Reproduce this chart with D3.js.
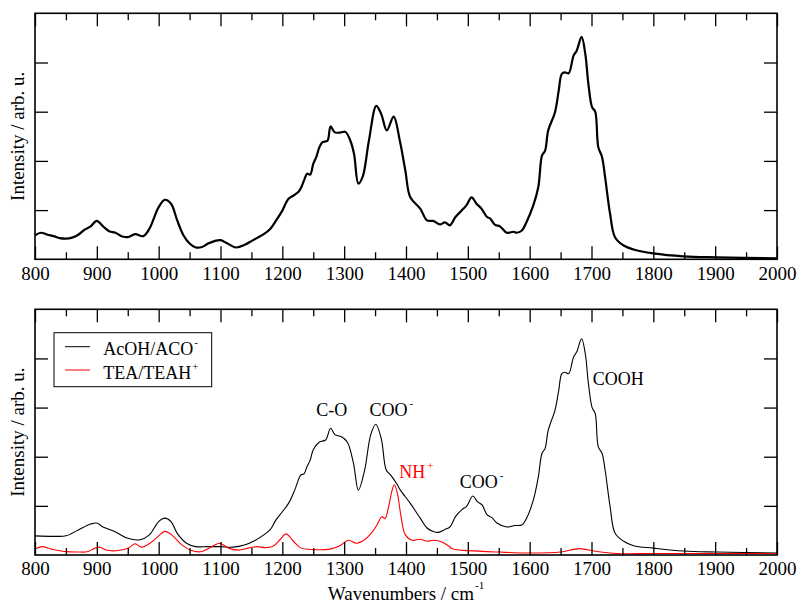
<!DOCTYPE html>
<html>
<head>
<meta charset="utf-8">
<script src="https://cdn.jsdelivr.net/npm/d3@7"></script>
<style>
  body { margin: 0; background: #fff; }
  svg text { font-family: "Liberation Serif", "Times New Roman", serif; }
</style>
</head>
<body>
<svg width="798" height="604"></svg>
<script>
// top panel: measured spectrum
var topWn = [800, 810, 820, 830, 840, 850, 860, 870, 880, 890, 900, 910, 920, 930, 940, 950, 962, 975, 985,
    1000, 1010, 1020, 1030, 1040, 1050, 1060, 1070, 1080, 1090, 1100, 1110, 1125, 1140, 1150, 1160, 1170, 1180,
    1190, 1200, 1210, 1220, 1228, 1235, 1240, 1245, 1250, 1255, 1260, 1265, 1273, 1278, 1285, 1295, 1302, 1310,
    1316, 1323, 1330, 1340, 1352, 1360, 1369, 1380, 1390, 1399, 1407, 1423, 1434, 1444, 1455, 1463, 1471, 1480,
    1490, 1498, 1506, 1514, 1522, 1531, 1536, 1544, 1552, 1563, 1574, 1579, 1587, 1595, 1606, 1614, 1620, 1625,
    1630, 1641, 1647, 1652, 1657, 1663, 1671, 1676, 1684, 1690, 1695, 1701, 1706, 1711, 1717, 1722, 1730, 1738,
    1752, 1768, 1800, 1849, 1903, 2000];
var topInt = [0.49, 0.54, 0.50, 0.47, 0.43, 0.42, 0.44, 0.50, 0.60, 0.67, 0.78, 0.67, 0.57, 0.54, 0.47, 0.45, 0.51, 0.47, 0.62,
    1.06, 1.21, 1.13, 0.79, 0.49, 0.32, 0.24, 0.25, 0.32, 0.37, 0.39, 0.33, 0.24, 0.30, 0.37, 0.44, 0.51, 0.61,
    0.79, 0.99, 1.23, 1.31, 1.40, 1.60, 1.74, 1.72, 1.94, 2.08, 2.28, 2.38, 2.41, 2.70, 2.58, 2.58, 2.59, 2.41,
    2.14, 1.54, 1.68, 2.41, 3.12, 2.95, 2.62, 2.90, 2.41, 1.80, 1.26, 1.03, 0.79, 0.78, 0.71, 0.75, 0.69, 0.86,
    0.99, 1.10, 1.26, 1.13, 1.03, 0.86, 0.83, 0.70, 0.67, 0.54, 0.56, 0.54, 0.58, 0.76, 1.10, 1.47, 2.11, 2.21,
    2.62, 2.99, 3.43, 3.77, 3.80, 3.78, 4.14, 4.24, 4.52, 4.17, 3.56, 3.09, 3.00, 2.28, 2.08, 1.67, 0.93, 0.45,
    0.28, 0.20, 0.12, 0.06, 0.04, 0.02];

// bottom panel: AcOH/ACO- (black)
var acWn = [800, 830, 850, 870, 890, 900, 910, 930, 950, 970, 985, 1000, 1010, 1020, 1030, 1045, 1060, 1080,
    1100, 1120, 1140, 1155, 1170, 1180, 1190, 1200, 1210, 1220, 1230, 1235, 1240, 1245, 1250, 1260, 1270, 1278,
    1285, 1295, 1305, 1315, 1323, 1333, 1343, 1351, 1360, 1368, 1375, 1385, 1391, 1407, 1423, 1434, 1444, 1452,
    1463, 1471, 1480, 1490, 1498, 1508, 1515, 1523, 1531, 1539, 1547, 1563, 1576, 1587, 1595, 1606, 1614, 1620,
    1625, 1630, 1641, 1647, 1652, 1657, 1663, 1671, 1676, 1684, 1690, 1695, 1701, 1706, 1711, 1717, 1722, 1730,
    1738, 1752, 1768, 1800, 1849, 1903, 2000];
var acInt = [0.39, 0.38, 0.39, 0.51, 0.63, 0.65, 0.57, 0.47, 0.34, 0.31, 0.41, 0.68, 0.75, 0.68, 0.44, 0.24, 0.17, 0.17,
    0.17, 0.16, 0.21, 0.29, 0.41, 0.51, 0.72, 0.88, 1.05, 1.32, 1.63, 1.65, 1.80, 1.93, 2.14, 2.30, 2.34, 2.58,
    2.45, 2.41, 2.30, 1.87, 1.32, 1.72, 2.45, 2.66, 2.37, 1.73, 1.63, 1.45, 1.32, 1.05, 0.75, 0.55, 0.48, 0.46,
    0.52, 0.57, 0.78, 0.92, 0.99, 1.20, 1.09, 1.02, 0.82, 0.76, 0.65, 0.57, 0.60, 0.61, 0.75, 1.12, 1.59, 2.07,
    2.17, 2.54, 2.95, 3.35, 3.69, 3.72, 3.69, 4.03, 4.13, 4.40, 4.09, 3.49, 3.00, 2.88, 2.20, 2.07, 1.73, 0.99,
    0.45, 0.28, 0.19, 0.14, 0.08, 0.06, 0.04];

// bottom panel: TEA/TEAH+ (red)
var teaWn = [800, 811, 827, 848, 870, 886, 897, 905, 915, 935, 951, 962, 972, 986, 1000, 1010, 1021, 1037, 1053,
    1070, 1086, 1099, 1113, 1129, 1145, 1159, 1172, 1185, 1196, 1206, 1218, 1229, 1250, 1277, 1293, 1307, 1320,
    1334, 1345, 1353, 1361, 1366, 1372, 1377, 1381, 1386, 1392, 1399, 1410, 1423, 1434, 1444, 1455, 1466, 1476,
    1500, 1550, 1601, 1650, 1680, 1709, 1741, 1800, 2000];
var teaInt = [0.12, 0.17, 0.12, 0.07, 0.06, 0.07, 0.14, 0.16, 0.10, 0.09, 0.14, 0.23, 0.16, 0.24, 0.39, 0.48, 0.41, 0.21, 0.09,
    0.07, 0.17, 0.24, 0.14, 0.10, 0.14, 0.17, 0.15, 0.18, 0.31, 0.43, 0.28, 0.15, 0.11, 0.12, 0.19, 0.30, 0.24,
    0.32, 0.46, 0.61, 0.78, 0.74, 0.99, 1.29, 1.43, 1.26, 0.78, 0.41, 0.30, 0.32, 0.28, 0.30, 0.28, 0.21, 0.12,
    0.09, 0.06, 0.04, 0.06, 0.13, 0.07, 0.03, 0.03, 0.03];

var xMajor = [800, 900, 1000, 1100, 1200, 1300, 1400, 1500, 1600, 1700, 1800, 1900, 2000];
var xMinor = [850, 950, 1050, 1150, 1250, 1350, 1450, 1550, 1650, 1750, 1850, 1950];
var yMajor = [1, 2, 3, 4];

// peak labels in the lower panel: [text, superscript, wavenumber, intensity, colour, anchor]
var peakLabels = [
    ["C-O", "", 1280, 2.83, "black", "middle"],
    ["COO", "-", 1341, 2.83, "black", "start"],
    ["NH", "+", 1389, 1.56, "red", "start"],
    ["COO", "-", 1487, 1.36, "black", "start"],
    ["COOH", "", 1702, 3.45, "black", "start"]
];

var FONT = "'Liberation Serif', 'Times New Roman', serif";
var svg = d3.select("svg");
var left = 35, right = 777;

var x = d3.scaleLinear().domain([800, 2000]).range([left, right]);

var panels = [
    { top: 13.3, bottom: 259.3 },
    { top: 309.3, bottom: 555 }
];
panels.forEach(function (p) {
    p.y = d3.scaleLinear().domain([0, 5]).range([p.bottom, p.top]);
});

function lineFor(y) {
    return d3.line()
        .x(function (d) { return x(d[0]); })
        .y(function (d) { return y(d[1]); })
        .curve(d3.curveCatmullRom.alpha(0.5));
}

function drawFrame(p) {
    var g = svg.append("g");

    var bottomMajor = g.append("g")
        .attr("transform", "translate(0," + p.bottom + ")")
        .call(d3.axisBottom(x).tickValues(xMajor).tickSizeInner(-13).tickSizeOuter(0).tickPadding(7)
            .tickFormat(d3.format("d")));
    g.append("g")
        .attr("transform", "translate(0," + p.bottom + ")")
        .call(d3.axisBottom(x).tickValues(xMinor).tickSizeInner(-7).tickSizeOuter(0).tickFormat(""));
    g.append("g")
        .attr("transform", "translate(0," + p.top + ")")
        .call(d3.axisTop(x).tickValues(xMajor).tickSizeInner(-13).tickSizeOuter(0).tickFormat(""));
    g.append("g")
        .attr("transform", "translate(0," + p.top + ")")
        .call(d3.axisTop(x).tickValues(xMinor).tickSizeInner(-7).tickSizeOuter(0).tickFormat(""));
    g.append("g")
        .attr("transform", "translate(" + left + ",0)")
        .call(d3.axisLeft(p.y).tickValues(yMajor).tickSizeInner(-13).tickSizeOuter(0).tickFormat(""));
    g.append("g")
        .attr("transform", "translate(" + right + ",0)")
        .call(d3.axisRight(p.y).tickValues(yMajor).tickSizeInner(-13).tickSizeOuter(0).tickFormat(""));

    g.selectAll(".domain").remove();
    g.selectAll("g").attr("font-family", FONT);
    g.selectAll(".tick line").attr("stroke", "#000").attr("stroke-width", 1.3);
    bottomMajor.selectAll("text")
        .attr("font-size", 19)
        .attr("fill", "#000");

    g.append("rect")
        .attr("x", left).attr("y", p.top)
        .attr("width", right - left).attr("height", p.bottom - p.top)
        .attr("fill", "none").attr("stroke", "#000").attr("stroke-width", 1.6);

    svg.append("text")
        .attr("transform", "translate(23.5," + ((p.top + p.bottom) / 2) + ") rotate(-90)")
        .attr("text-anchor", "middle")
        .attr("font-size", 19)
        .text("Intensity / arb. u.");
}

// upper panel
var p0 = panels[0];
svg.append("path")
    .datum(d3.zip(topWn, topInt))
    .attr("fill", "none")
    .attr("stroke", "#000")
    .attr("stroke-width", 2.2)
    .attr("stroke-linejoin", "round")
    .attr("d", lineFor(p0.y));
drawFrame(p0);

// lower panel
var p1 = panels[1];
svg.append("path")
    .datum(d3.zip(acWn, acInt))
    .attr("fill", "none")
    .attr("stroke", "#000")
    .attr("stroke-width", 1.1)
    .attr("d", lineFor(p1.y));
svg.append("path")
    .datum(d3.zip(teaWn, teaInt))
    .attr("fill", "none")
    .attr("stroke", "#ff0000")
    .attr("stroke-width", 1.1)
    .attr("d", lineFor(p1.y));
drawFrame(p1);

peakLabels.forEach(function (l) {
    var t = svg.append("text")
        .attr("x", x(l[2]))
        .attr("y", p1.y(l[3]))
        .attr("text-anchor", l[5])
        .attr("font-size", 18)
        .attr("fill", l[4])
        .text(l[0]);
    if (l[1]) {
        t.append("tspan").attr("dx", 2).attr("dy", -9).attr("font-size", 11).text(l[1]);
    }
});

// legend
var legend = svg.append("g");
legend.append("rect")
    .attr("x", 54).attr("y", 332.7).attr("width", 157.7).attr("height", 54)
    .attr("fill", "#fff").attr("stroke", "#000").attr("stroke-width", 1);
var legendItems = [["AcOH/ACO", "-", "#000"], ["TEA/TEAH", "+", "#ff0000"]];
legendItems.forEach(function (item, i) {
    var yy = 346.7 + i * 23.3;
    legend.append("line")
        .attr("x1", 65).attr("x2", 90).attr("y1", yy).attr("y2", yy)
        .attr("stroke", item[2]).attr("stroke-width", 1);
    var t = legend.append("text")
        .attr("x", 103.3).attr("y", yy + 8.5)
        .attr("font-size", 18)
        .text(item[0]);
    t.append("tspan").attr("dx", 1).attr("dy", -9).attr("font-size", 11).text(item[1]);
});

// x axis title
var xt = svg.append("text")
    .attr("x", (left + right) / 2)
    .attr("y", 600)
    .attr("text-anchor", "middle")
    .attr("font-size", 19)
    .text("Wavenumbers / cm");
xt.append("tspan").attr("dx", 1).attr("dy", -11).attr("font-size", 11).text("-1");
</script>
</body>
</html>
